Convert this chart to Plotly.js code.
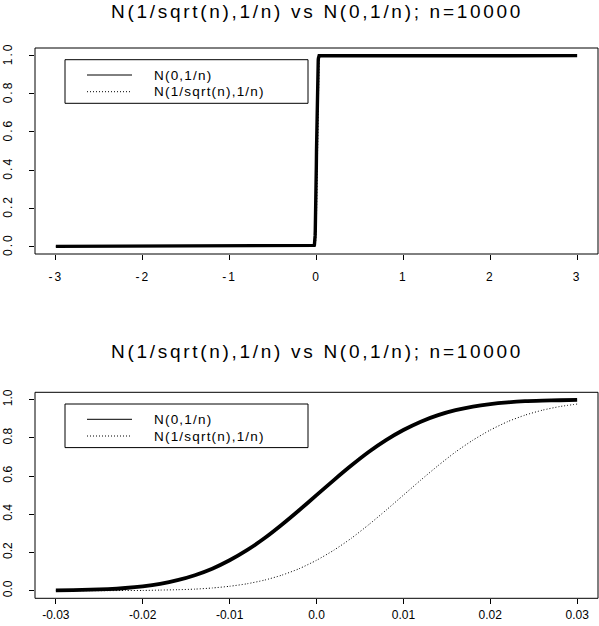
<!DOCTYPE html>
<html>
<head>
<meta charset="utf-8">
<script src="https://cdn.plot.ly/plotly-3.0.1.min.js"></script>
<style>
  html, body { margin: 0; padding: 0; background: #fff; }
  #chart { width: 599px; height: 626px; }
  .xtick text, .ytick text { letter-spacing: 2px; }
  .annotation[data-index="0"] text, .annotation[data-index="1"] text { letter-spacing: 2.7px; }
  .annotation[data-index="2"] text, .annotation[data-index="3"] text,
  .annotation[data-index="4"] text, .annotation[data-index="5"] text { letter-spacing: 1.2px; }
</style>
</head>
<body>
<div id="chart"></div>
<script>
// ---- data ----
const xPts = [-0.030, -0.028, -0.026, -0.024, -0.022, -0.020, -0.018, -0.016, -0.014, -0.012,
              -0.010, -0.008, -0.006, -0.004, -0.002, 0.000, 0.002, 0.004, 0.006, 0.008,
              0.010, 0.012, 0.014, 0.016, 0.018, 0.020, 0.022, 0.024, 0.026, 0.028, 0.030];
const ySolid = [0.001, 0.003, 0.005, 0.008, 0.014, 0.023, 0.036, 0.055, 0.081, 0.115,
                0.159, 0.212, 0.274, 0.345, 0.421, 0.500, 0.579, 0.655, 0.726, 0.788,
                0.841, 0.885, 0.919, 0.945, 0.964, 0.977, 0.986, 0.992, 0.995, 0.997, 0.999];
const yShifted = [0.000, 0.000, 0.000, 0.000, 0.001, 0.001, 0.003, 0.005, 0.008, 0.014,
                  0.023, 0.036, 0.055, 0.081, 0.115, 0.159, 0.212, 0.274, 0.345, 0.421,
                  0.500, 0.579, 0.655, 0.726, 0.788, 0.841, 0.885, 0.919, 0.945, 0.964, 0.977];
// flat tails seen in the wide (top) panel
const tailX = [-3, 3];
const tailSolid = [0, 1];
const shiftedTopX = [0.04];      // dotted curve has reached the top by about here
const shiftedTopY = [0.999];
const tailShifted = [0, 1];

const topTickVals = [-3, -2, -1, 0, 1, 2, 3];
const topTickText = ["-3", "-2", "-1", "0", "1", "2", "3"];
const botTickVals = [-0.03, -0.02, -0.01, 0, 0.01, 0.02, 0.03];
const botTickText = ["-0.03", "-0.02", "-0.01", "0.0", "0.01", "0.02", "0.03"];
const yTickVals = [0, 0.2, 0.4, 0.6, 0.8, 1.0];
const yTickText = ["0.0", "0.2", "0.4", "0.6", "0.8", "1.0"];

const titleText = "N(1/sqrt(n),1/n) vs N(0,1/n); n=10000";
const legendNames = ["N(0,1/n)", "N(1/sqrt(n),1/n)"];

// ---- layout helpers ----
const W = 599, H = 626;
const fx = p => p / W;
const fy = p => 1 - p / H;
const FONT = "Liberation Sans, Arial, Helvetica, sans-serif";

const topX = [tailX[0]].concat(xPts, [tailX[1]]);
const topSolid = [tailSolid[0]].concat(ySolid, [tailSolid[1]]);
const topShiftX = [tailX[0]].concat(xPts, shiftedTopX, [tailX[1]]);
const topShifted = [tailShifted[0]].concat(yShifted, shiftedTopY, [tailShifted[1]]);

const traces = [
  {x: topShiftX, y: topShifted, xaxis: "x", yaxis: "y", mode: "lines",
   line: {color: "#000", width: 1, dash: "1px,2px"}, name: legendNames[1]},
  {x: topX, y: topSolid, xaxis: "x", yaxis: "y", mode: "lines",
   line: {color: "#000", width: 3.4}, name: legendNames[0]},
  {x: xPts, y: yShifted, xaxis: "x2", yaxis: "y2", mode: "lines",
   line: {color: "#000", width: 1, dash: "1px,2px", shape: "spline", smoothing: 0.6}, name: legendNames[1]},
  {x: xPts, y: ySolid, xaxis: "x2", yaxis: "y2", mode: "lines",
   line: {color: "#000", width: 3.8, shape: "spline", smoothing: 0.6}, name: legendNames[0]}
];

function xAxis(anchor, range, vals, text, standoff) {
  return {
    anchor: anchor, domain: [fx(35), fx(598)], range: range,
    showgrid: false, zeroline: false, showline: false,
    ticks: "outside", ticklen: 5, tickwidth: 1, tickcolor: "#000",
    tickmode: "array", tickvals: vals, ticktext: text,
    ticklabelstandoff: standoff,
    tickfont: {family: FONT, size: 12, color: "#000"}, fixedrange: true
  };
}
function yAxis(anchor, domPx, range) {
  return {
    anchor: anchor, domain: [fy(domPx[1]), fy(domPx[0])], range: range,
    showgrid: false, zeroline: false, showline: false,
    ticks: "outside", ticklen: 5, tickwidth: 1, tickcolor: "#000",
    tickmode: "array", tickvals: yTickVals, ticktext: yTickText,
    tickangle: -90, ticklabelstandoff: 12,
    tickfont: {family: FONT, size: 12, color: "#000"}, fixedrange: true
  };
}

const panels = [
  {xref: "x", yref: "y", dy: 0},
  {xref: "x2", yref: "y2", dy: 344.3}
];

const shapes = [];
const annotations = [];
// titles first (indexes 0,1)
annotations.push({
  xref: "paper", yref: "paper", x: fx(316.7), y: 1,
  xanchor: "center", yanchor: "top", showarrow: false, borderpad: 0,
  text: titleText, font: {family: FONT, size: 19, color: "#000"}
});
annotations.push({
  xref: "paper", yref: "paper", x: fx(316.7), y: fy(351.9),
  xanchor: "center", yanchor: "middle", showarrow: false,
  text: titleText, font: {family: FONT, size: 19, color: "#000"}
});
panels.forEach(p => {
  // frame
  shapes.push({type: "rect", xref: p.xref + " domain", yref: p.yref + " domain",
               x0: 0, x1: 1, y0: 0, y1: 1, line: {color: "#000", width: 1}});
  // legend box
  shapes.push({type: "rect", xref: "paper", yref: "paper",
               x0: fx(65), x1: fx(308), y0: fy(103.3 + p.dy), y1: fy(59.7 + p.dy),
               line: {color: "#000", width: 1}});
  const rows = [75 + p.dy, 91.7 + p.dy];
  shapes.push({type: "line", xref: "paper", yref: "paper",
               x0: fx(87), x1: fx(132), y0: fy(rows[0]), y1: fy(rows[0]),
               line: {color: "#000", width: 1}});
  shapes.push({type: "line", xref: "paper", yref: "paper",
               x0: fx(87), x1: fx(132), y0: fy(rows[1]), y1: fy(rows[1]),
               line: {color: "#000", width: 1, dash: "1px,2px"}});
  legendNames.forEach((nm, i) => {
    annotations.push({
      xref: "paper", yref: "paper", x: fx(152), y: fy(rows[i]),
      xanchor: "left", yanchor: "middle", align: "left", showarrow: false,
      text: nm, font: {family: FONT, size: 13.5, color: "#000"}
    });
  });
});

const layout = {
  width: W, height: H,
  margin: {l: 0, r: 0, t: 0, b: 0, pad: 0},
  paper_bgcolor: "#fff", plot_bgcolor: "#fff",
  showlegend: false,
  font: {family: FONT, color: "#000"},
  xaxis: xAxis("y", [-3.24, 3.24], topTickVals, topTickText, 7),
  yaxis: yAxis("x", [48, 254], [-0.04, 1.04]),
  xaxis2: xAxis("y2", [-0.0324, 0.0324], botTickVals, botTickText, 4.5),
  yaxis2: yAxis("x2", [392.3, 598.3], [-0.04, 1.0386]),
  shapes: shapes,
  annotations: annotations
};

Plotly.newPlot("chart", traces, layout, {staticPlot: true, displayModeBar: false});
</script>
</body>
</html>
